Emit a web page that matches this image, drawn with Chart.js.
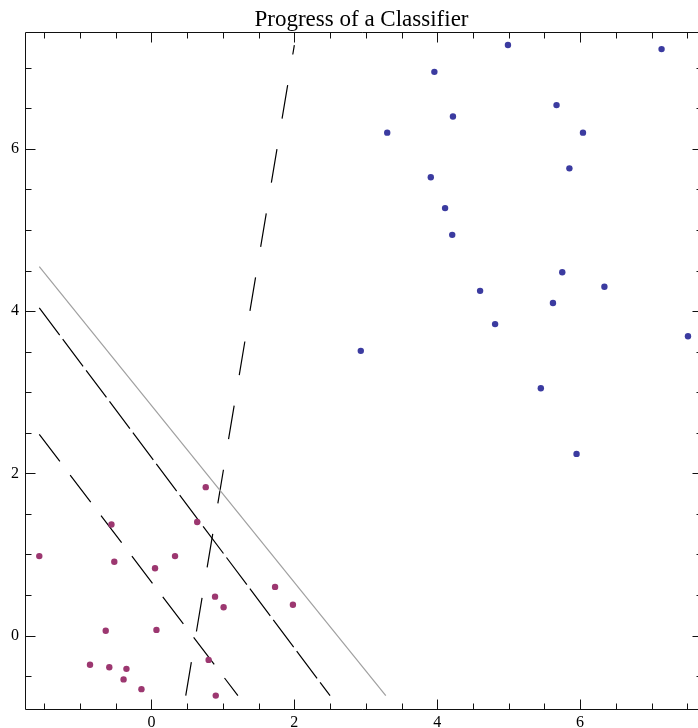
<!DOCTYPE html>
<html>
<head>
<meta charset="utf-8">
<title>Progress of a Classifier</title>
<script src="https://cdn.jsdelivr.net/npm/chart.js@4.4.1/dist/chart.umd.min.js"></script>
<style>
    html, body { margin: 0; padding: 0; background: #fff; }
</style>
</head>
<body>
<canvas id="classifierChart" width="698" height="728"></canvas>
<script>
// class 1 points (blue)
const blueX = [4.99, 7.14, 3.96, 5.67, 4.22, 3.30, 6.04, 5.85, 3.91, 4.11, 4.21, 5.75, 6.34, 4.60, 5.62, 4.81, 7.51, 2.93, 5.45, 5.95];
const blueY = [7.28, 7.23, 6.95, 6.54, 6.40, 6.20, 6.20, 5.76, 5.65, 5.27, 4.94, 4.48, 4.30, 4.25, 4.10, 3.84, 3.69, 3.51, 3.05, 2.24];

// class 2 points (magenta)
const redX = [0.76, -0.56, 0.64, -1.57, 0.33, -0.52, 0.05, 1.73, 0.89, 1.98, 1.01, -0.64, 0.07, 0.80, -0.86, -0.59, -0.35, -0.39, -0.14, 0.90];
const redY = [1.83, 1.37, 1.40, 0.98, 0.98, 0.91, 0.83, 0.60, 0.48, 0.38, 0.35, 0.06, 0.07, -0.30, -0.36, -0.39, -0.41, -0.54, -0.66, -0.74];

// separating lines, one per iteration (end points)
const finalLineX = [-1.57, 3.28];
const finalLineY = [4.55, -0.74];
const step3X = [-1.57, 2.50];
const step3Y = [4.04, -0.74];
const step2X = [-1.57, 1.21];
const step2Y = [2.48, -0.74];
const step1X = [0.48, 2.00];
const step1Y = [-0.74, 7.28];

// axes (the plot frame runs a little past the right edge of the canvas)
const xRange = [-1.77, 7.65];
const xFrameMax = 7.70;
const yRange = [-0.905, 7.441];
const xMajorTicks = [0, 2, 4, 6];
const yMajorTicks = [0, 2, 4, 6];
const minorStep = 0.5;

function toPoints(xs, ys) {
    return xs.map((x, i) => ({ x: x, y: ys[i] }));
}

function lineSet(xs, ys, color, dash) {
    return {
        data: toPoints(xs, ys),
        showLine: true,
        borderColor: color,
        borderWidth: 1.2,
        borderDash: dash,
        borderCapStyle: 'butt',
        pointRadius: 0,
        fill: false,
        order: 2
    };
}

// frame with inward ticks on all four sides
const frameTicks = {
    id: 'frameTicks',
    afterDatasetsDraw(chart) {
        const ctx = chart.ctx;
        const a = chart.chartArea;
        const xs = chart.scales.x;
        const ys = chart.scales.y;
        const left = Math.round(a.left) + 0.5;
        const right = Math.round(xs.getPixelForValue(xFrameMax)) + 0.5;
        const top = Math.round(a.top) + 0.5;
        const bottom = Math.round(a.bottom) + 0.5;
        ctx.save();
        ctx.strokeStyle = '#111';
        ctx.lineWidth = 1;
        ctx.beginPath();
        ctx.rect(left, top, right - left, bottom - top);
        ctx.stroke();

        ctx.beginPath();
        for (let v = Math.ceil(xRange[0] / minorStep) * minorStep; v <= xFrameMax; v += minorStep) {
            const len = xMajorTicks.includes(v) ? 10 : 6;
            const p = Math.round(xs.getPixelForValue(v)) + 0.5;
            ctx.moveTo(p, top);
            ctx.lineTo(p, top + len);
            ctx.moveTo(p, bottom);
            ctx.lineTo(p, bottom - len);
        }
        for (let v = Math.ceil(yRange[0] / minorStep) * minorStep; v <= yRange[1]; v += minorStep) {
            const len = yMajorTicks.includes(v) ? 10 : 6;
            const p = Math.round(ys.getPixelForValue(v)) + 0.5;
            ctx.moveTo(left, p);
            ctx.lineTo(left + len, p);
            ctx.moveTo(right, p);
            ctx.lineTo(right - len, p);
        }
        ctx.stroke();
        ctx.restore();
    }
};

const ctx = document.getElementById('classifierChart');
new Chart(ctx, {
    type: 'scatter',
    data: {
        datasets: [
            {
                data: toPoints(blueX, blueY),
                backgroundColor: '#3b3ba0',
                borderWidth: 0,
                pointRadius: 3.2,
                order: 1
            },
            {
                data: toPoints(redX, redY),
                backgroundColor: '#9c3770',
                borderWidth: 0,
                pointRadius: 3.2,
                order: 1
            },
            lineSet(finalLineX, finalLineY, '#a0a0a0', []),
            lineSet(step3X, step3Y, '#000', [34, 5]),
            lineSet(step2X, step2Y, '#000', [34, 17]),
            lineSet(step1X, step1Y, '#000', [34, 31])
        ]
    },
    options: {
        responsive: false,
        animation: false,
        layout: {
            autoPadding: false,
            padding: 0
        },
        plugins: {
            legend: { display: false },
            tooltip: { enabled: false },
            title: {
                display: true,
                text: 'Progress of a Classifier',
                fullSize: false,
                color: '#000',
                font: { family: '"Liberation Serif", "DejaVu Serif", serif', size: 23, weight: 'normal', lineHeight: 1 },
                padding: { top: 8, bottom: 1 }
            }
        },
        scales: {
            x: {
                type: 'linear',
                min: xRange[0],
                max: xRange[1],
                grid: { display: false, drawTicks: false },
                border: { display: false },
                afterBuildTicks: function (s) { s.ticks = xMajorTicks.map(v => ({ value: v })); },
                afterFit: function (s) { s.height = 19; s.paddingLeft = 0; s.paddingRight = 0; },
                ticks: {
                    color: '#000',
                    padding: 4,
                    maxRotation: 0,
                    autoSkip: false,
                    font: { family: '"Liberation Serif", serif', size: 16, lineHeight: 1.2 }
                }
            },
            y: {
                type: 'linear',
                min: yRange[0],
                max: yRange[1],
                grid: { display: false, drawTicks: false },
                border: { display: false },
                afterBuildTicks: function (s) { s.ticks = yMajorTicks.map(v => ({ value: v })); },
                afterFit: function (s) { s.width = 25; s.paddingTop = 0; s.paddingBottom = 0; },
                ticks: {
                    color: '#000',
                    padding: 6,
                    autoSkip: false,
                    font: { family: '"Liberation Serif", serif', size: 16, lineHeight: 1.2 }
                }
            }
        }
    },
    plugins: [frameTicks]
});
</script>
</body>
</html>
